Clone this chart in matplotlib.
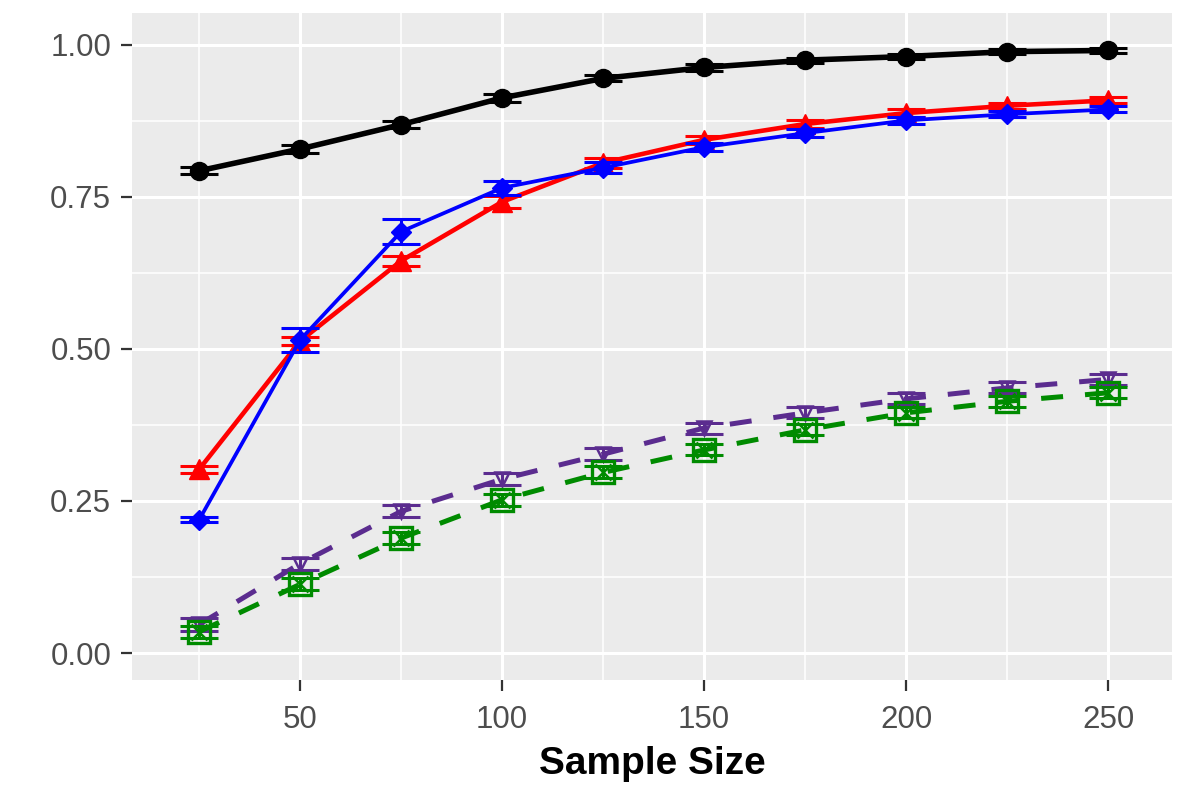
import matplotlib
matplotlib.use("Agg")
import matplotlib.pyplot as plt
import numpy as np

plt.rcParams['font.family'] = ['Liberation Sans', 'DejaVu Sans']

sample_size = [25, 50, 75, 100, 125, 150, 175, 200, 225, 250]

black_vals = [0.793, 0.829, 0.869, 0.913, 0.945, 0.963, 0.975, 0.981, 0.989, 0.991]
black_err = [0.006, 0.006, 0.006, 0.006, 0.005, 0.005, 0.004, 0.004, 0.004, 0.004]

red_vals = [0.302, 0.513, 0.645, 0.742, 0.806, 0.844, 0.870, 0.888, 0.900, 0.909]
red_err = [0.006, 0.006, 0.008, 0.010, 0.008, 0.007, 0.006, 0.006, 0.005, 0.005]

blue_vals = [0.219, 0.515, 0.693, 0.765, 0.798, 0.832, 0.855, 0.876, 0.886, 0.894]
blue_err = [0.004, 0.020, 0.021, 0.012, 0.009, 0.007, 0.006, 0.006, 0.005, 0.005]

purple_vals = [0.047, 0.147, 0.233, 0.286, 0.327, 0.370, 0.395, 0.418, 0.436, 0.450]
purple_err = [0.010, 0.010, 0.010, 0.010, 0.010, 0.009, 0.009, 0.009, 0.009, 0.009]

green_vals = [0.035, 0.113, 0.189, 0.252, 0.297, 0.334, 0.367, 0.395, 0.414, 0.428]
green_err = [0.010, 0.010, 0.010, 0.010, 0.010, 0.009, 0.009, 0.009, 0.009, 0.009]

x_ticks = [50, 100, 150, 200, 250]
y_ticks = [0.00, 0.25, 0.50, 0.75, 1.00]
y_tick_labels = ["0.00", "0.25", "0.50", "0.75", "1.00"]
x_label = "Sample Size"

fig = plt.figure(figsize=(11.96, 7.97), dpi=100)
ax = fig.add_axes([0.1104, 0.1468, 0.9800 - 0.1104, 0.9837 - 0.1468])
ax.set_facecolor('#EBEBEB')
for s in ax.spines.values():
    s.set_visible(False)

ax.set_xlim(8.4, 265.8)
ax.set_ylim(-0.0444, 1.0526)
ax.set_xticks(x_ticks)
ax.set_xticks([25, 75, 125, 175, 225], minor=True)
ax.set_yticks(y_ticks)
ax.set_yticklabels(y_tick_labels)
ax.set_yticks([0.125, 0.375, 0.625, 0.875], minor=True)
ax.grid(which='major', color='white', linewidth=2.2, zorder=0)
ax.grid(which='minor', color='white', linewidth=1.1, zorder=0)
ax.set_axisbelow(True)
ax.tick_params(which='major', length=8, width=1.6, color='#333333',
               labelsize=22.5, labelcolor='#4D4D4D')
ax.tick_params(axis='x', which='major', pad=10)
ax.tick_params(axis='y', which='major', pad=7)
ax.tick_params(which='minor', length=0)

x = np.array(sample_size)
cap = 14

def series(vals, err, color, lw, marker, ms, mfc, mew, z, dashes=None):
    vals = np.array(vals)
    err = np.array(err)
    ax.errorbar(x, vals, yerr=err, fmt='none', ecolor=color, elinewidth=2.2,
                capsize=cap, capthick=2.2, zorder=z)
    line, = ax.plot(x, vals, color=color, lw=lw, zorder=z + 0.1,
                    solid_capstyle='butt', dash_capstyle='butt')
    if dashes is not None:
        line.set_dashes(dashes)
    ax.plot(x, vals, ls='none', marker=marker, ms=ms, mfc=mfc, mec=color,
            mew=mew, zorder=z + 0.2)

series(black_vals, black_err, 'black', 4.0, 'o', 13, 'black', 1, 3)
series(red_vals, red_err, '#FF0000', 3.3, '^', 15, '#FF0000', 1, 4)
series(blue_vals, blue_err, '#0000FF', 2.7, 'D', 10, '#0000FF', 1, 5)
series(purple_vals, purple_err, '#5B2C8F', 3.6, 'v', 10, 'none', 1.8, 6,
       dashes=(4.4, 4.4))
series(green_vals, green_err, '#008B00', 3.6, 's', 16, 'none', 2.4, 7,
       dashes=(4.4, 4.4))
ax.plot(x, np.array(green_vals), ls='none', marker='x', ms=12, mec='#008B00',
        mew=1.8, zorder=7.3)

ax.set_xlabel(x_label, fontsize=28, fontweight='bold', color='black', labelpad=8)

fig.savefig('out.png', dpi=100, facecolor='white')
